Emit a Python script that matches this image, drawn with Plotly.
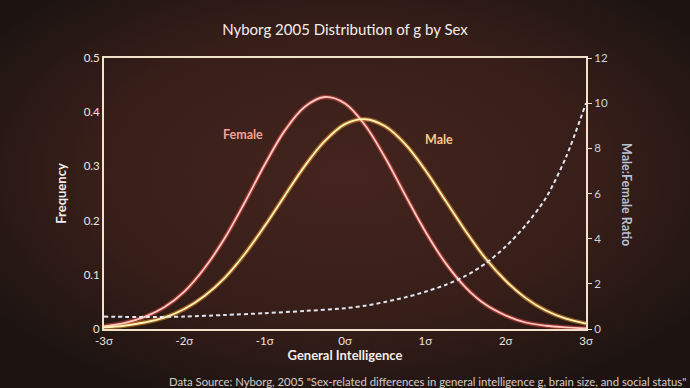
import base64
import plotly.graph_objects as go

# ---- data ----
sigma = [-3, -2.75, -2.5, -2.25, -2, -1.75, -1.5, -1.25, -1, -0.75, -0.5, -0.25,
         0, 0.25, 0.5, 0.75, 1, 1.25, 1.5, 1.75, 2, 2.25, 2.5, 2.75, 3]
female = [0.005, 0.011, 0.022, 0.040, 0.069, 0.112, 0.167, 0.233, 0.303, 0.366, 0.410, 0.428,
          0.416, 0.376, 0.316, 0.247, 0.180, 0.122, 0.077, 0.045, 0.025, 0.012, 0.006, 0.003, 0.001]
male = [0.003, 0.006, 0.012, 0.021, 0.037, 0.061, 0.094, 0.138, 0.190, 0.246, 0.301, 0.347,
        0.378, 0.387, 0.374, 0.341, 0.293, 0.237, 0.181, 0.130, 0.089, 0.057, 0.034, 0.019, 0.010]
ratio_x = [-3, -2.5, -2, -1.5, -1, -0.5, 0, 0.25, 0.5, 0.75, 1, 1.25, 1.5, 1.75, 2, 2.25, 2.5, 2.75, 3]
ratio = [0.55, 0.53, 0.55, 0.62, 0.70, 0.80, 0.92, 1.03, 1.2, 1.4, 1.65, 1.95, 2.35, 2.9, 3.65, 4.6, 5.8, 7.6, 10.0]

x_ticks = [-3, -2, -1, 0, 1, 2, 3]
x_tick_labels = ["-3σ", "-2σ", "-1σ", "0σ", "1σ", "2σ", "3σ"]
y_ticks = [0, 0.1, 0.2, 0.3, 0.4, 0.5]
y_tick_labels = ["0", "0.1", "0.2", "0.3", "0.4", "0.5"]
y2_ticks = [0, 2, 4, 6, 8, 10, 12]

W, H = 690, 388
L, R, T, B = 104, 104, 58, 59
pw, ph = W - L - R, H - T - B

FONT = "Lato, 'Open Sans', sans-serif"
CREAM = "#f1e2c9"

svg = (f'<svg xmlns="http://www.w3.org/2000/svg" width="{W}" height="{H}" preserveAspectRatio="none">'
       '<defs><radialGradient id="g" cx="50%" cy="45%" r="62%">'
       '<stop offset="0" stop-color="#44241e"/><stop offset="0.6" stop-color="#371e19"/>'
       '<stop offset="1" stop-color="#1d1411"/></radialGradient></defs>'
       f'<rect width="{W}" height="{H}" fill="url(#g)"/></svg>')
bg_src = "data:image/svg+xml;base64," + base64.b64encode(svg.encode()).decode()

fig = go.Figure()

# glow layers
fig.add_trace(go.Scatter(x=sigma, y=female, mode="lines", line=dict(color="rgba(215,70,60,0.55)", width=4.5, shape="spline"), hoverinfo="skip", showlegend=False))
fig.add_trace(go.Scatter(x=sigma, y=male, mode="lines", line=dict(color="rgba(230,140,40,0.55)", width=4.5, shape="spline"), hoverinfo="skip", showlegend=False))
# core lines
fig.add_trace(go.Scatter(x=sigma, y=female, mode="lines", name="Female", line=dict(color="#ffc9c2", width=1.8, shape="spline"), showlegend=False))
fig.add_trace(go.Scatter(x=sigma, y=male, mode="lines", name="Male", line=dict(color="#fff0b4", width=1.8, shape="spline"), showlegend=False))
# ratio
fig.add_trace(go.Scatter(x=ratio_x, y=ratio, mode="lines", name="Male:Female Ratio", yaxis="y2",
                         line=dict(color="#dfe4ee", width=2, dash="4px,3px", shape="spline", smoothing=0.8),
                         showlegend=False))

fig.update_layout(
    width=W, height=H,
    margin=dict(l=L, r=R, t=T, b=B),
    paper_bgcolor="#2e1c18",
    plot_bgcolor="rgba(0,0,0,0)",
    font=dict(family=FONT, color="#ece4e0", size=11),
    images=[dict(source=bg_src, xref="paper", yref="paper", x=-L / pw, y=1 + T / ph,
                 sizex=W / pw, sizey=H / ph, xanchor="left", yanchor="top",
                 sizing="stretch", layer="below")],
    title=dict(text="Nyborg 2005 Distribution of g by Sex", x=0.5, xanchor="center",
               y=1 - 30 / H, yanchor="middle", font=dict(size=15, color="#f4eeea", family=FONT)),
    xaxis=dict(range=[-3, 3], tickvals=x_ticks, ticktext=x_tick_labels, showgrid=False, zeroline=False,
               showline=True, linecolor=CREAM, linewidth=2, mirror=True, ticks="",
               tickfont=dict(size=11.5, color="#ece4e0"),
               title=dict(text="<b>General Intelligence</b>", standoff=4, font=dict(size=13, color="#f4eeea"))),
    yaxis=dict(range=[0, 0.5], tickvals=y_ticks, ticktext=y_tick_labels,
               showgrid=False, zeroline=False, showline=True, linecolor=CREAM, linewidth=2, mirror=True,
               ticks="", tickfont=dict(size=11.5, color="#ece4e0"),
               title=dict(text="<b>Frequency</b>", standoff=14, font=dict(size=13, color="#f4eeea"))),
    yaxis2=dict(range=[0, 12], tickvals=y2_ticks, overlaying="y", side="right", showgrid=False,
                zeroline=False, showline=False, ticks="outside", ticklen=5, tickcolor=CREAM,
                tickfont=dict(size=11.5, color="#d0d4dc")),
    annotations=[
        dict(text="<b>Female</b>", x=-1.27, y=0.358, xref="x", yref="y", showarrow=False,
             font=dict(size=12.5, color="#f2a39c", family=FONT)),
        dict(text="<b>Male</b>", x=1.17, y=0.349, xref="x", yref="y", showarrow=False,
             font=dict(size=12.5, color="#f7c98b", family=FONT)),
        dict(text="<b>Male:Female Ratio</b>", textangle=90, x=(627 - L) / pw, y=(H - B - 194) / ph,
             xref="paper", yref="paper", showarrow=False, xanchor="center", yanchor="middle",
             font=dict(size=12.5, color="#b7c2d3", family=FONT)),
        dict(text='Data Source: Nyborg, 2005 "Sex-related differences in general intelligence g, brain size, and social status"',
             x=(W - 2 - L) / pw, y=-(381 - (H - B)) / ph, xref="paper", yref="paper", showarrow=False,
             xanchor="right", yanchor="middle", font=dict(size=11.3, color="#d6ccc6", family=FONT)),
    ],
)

fig.write_html("out.html", config={"displayModeBar": False},
               post_script="document.body.style.margin='0';document.body.style.overflow='hidden';")
